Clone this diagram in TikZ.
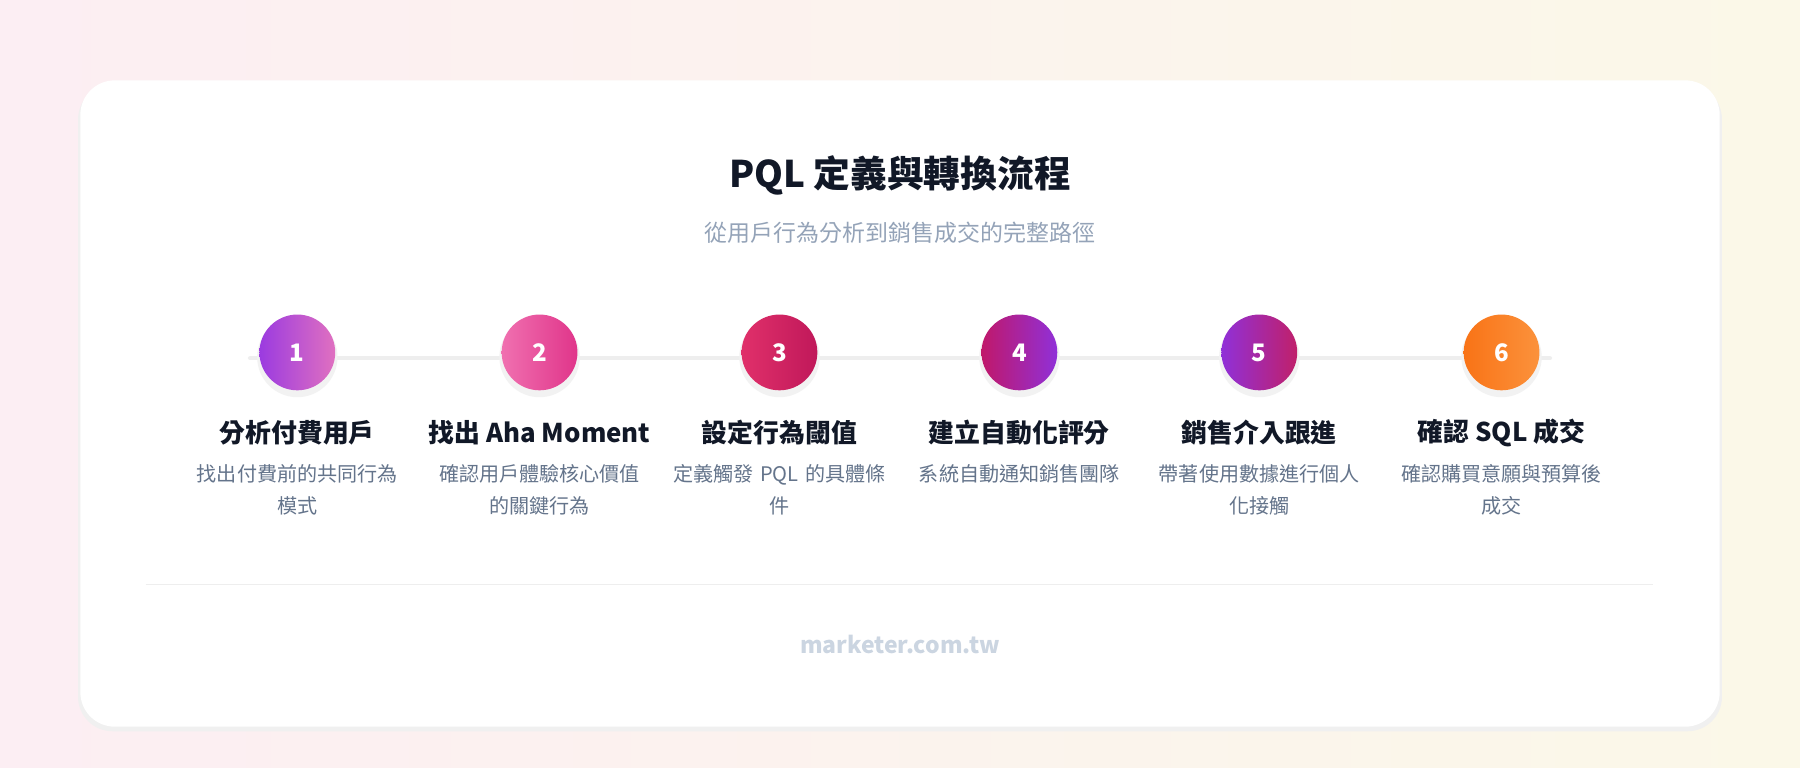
\documentclass[tikz,border=0pt]{standalone}
\usepackage{fontspec}
\setmainfont{Noto Sans CJK TC}
\usetikzlibrary{positioning}
\definecolor{ink}{HTML}{111827}
\definecolor{subgray}{HTML}{94A3B8}
\definecolor{descgray}{HTML}{64748B}
\definecolor{trackgray}{HTML}{EEEEEE}
\definecolor{footgray}{HTML}{CBD5E1}
\definecolor{bgpink}{HTML}{FCEEF3}
\definecolor{bgyellow}{HTML}{FBF8E8}
\definecolor{oneA}{HTML}{9B3BE0}\definecolor{oneB}{HTML}{E070C0}
\definecolor{twoA}{HTML}{F070B0}\definecolor{twoB}{HTML}{E0358A}
\definecolor{threeA}{HTML}{E0306A}\definecolor{threeB}{HTML}{C0185A}
\definecolor{fourA}{HTML}{C0186A}\definecolor{fourB}{HTML}{9030D8}
\definecolor{fiveA}{HTML}{9030D8}\definecolor{fiveB}{HTML}{C0206A}
\definecolor{sixA}{HTML}{F97316}\definecolor{sixB}{HTML}{FB923C}
\tikzset{
  stepcircle/.style={circle,minimum size=66pt,inner sep=0pt,text=white,font=\fontsize{21}{25}\selectfont\bfseries},
  stephead/.style={font=\fontsize{22.5}{27}\selectfont\bfseries,text=ink},
  stepdesc/.style={text width=200pt,align=center,font=\fontsize{17.5}{28}\selectfont,text=descgray}
}
\newcommand{\pqlstep}[6]{%
  \fill[black!5] (#1,311) circle (35pt);
  \shade[left color=#3A,right color=#3B] (#1,307) circle (33pt);
  \node[stepcircle] (c#2) at (#1,307) {#2};
  \node[stephead] (h#2) at (#1,377) {#4};
  \node[stepdesc,anchor=north] (d#2) at (#1,401) {#5\\#6};
}
\begin{document}
\begin{tikzpicture}[x=1pt,y=-1pt]
  \useasboundingbox (0,0) rectangle (1568,669);
  \shade[left color=bgpink,right color=bgyellow] (0,0) rectangle (1568,669);
  % card
  \fill[black!6,rounded corners=30pt] (68,74) rectangle (1500,637);
  \fill[white,rounded corners=30pt] (70,70) rectangle (1498,633);
  \node[font=\fontsize{32}{38}\selectfont\bfseries,text=ink] (title) at (784,153) {PQL 定義與轉換流程};
  \node[font=\fontsize{20}{24}\selectfont,text=subgray] (subtitle) at (784,203) {從用戶行為分析到銷售成交的完整路徑};
  \coordinate (trackL) at (218,312);
  \coordinate (trackR) at (1350,312);
  \draw[trackgray,line width=4pt,line cap=round] (trackL) -- (trackR);
  \pqlstep{259}{1}{one}{分析付費用戶}{找出付費前的共同行為}{模式}
  \pqlstep{470}{2}{two}{找出 Aha Moment}{確認用戶體驗核心價值}{的關鍵行為}
  \pqlstep{679}{3}{three}{設定行為閾值}{定義觸發 PQL 的具體條}{件}
  \pqlstep{888}{4}{four}{建立自動化評分}{系統自動通知銷售團隊}{}
  \pqlstep{1097}{5}{five}{銷售介入跟進}{帶著使用數據進行個人}{化接觸}
  \pqlstep{1308}{6}{six}{確認 SQL 成交}{確認購買意願與預算後}{成交}
  \coordinate (ruleL) at (127,509);
  \coordinate (ruleR) at (1440,509);
  \draw[trackgray,line width=1pt] (ruleL) -- (ruleR);
  \node[font=\fontsize{20}{24}\selectfont\bfseries,text=footgray] (footer) at (784,561) {marketer.com.tw};
\end{tikzpicture}
\end{document}
